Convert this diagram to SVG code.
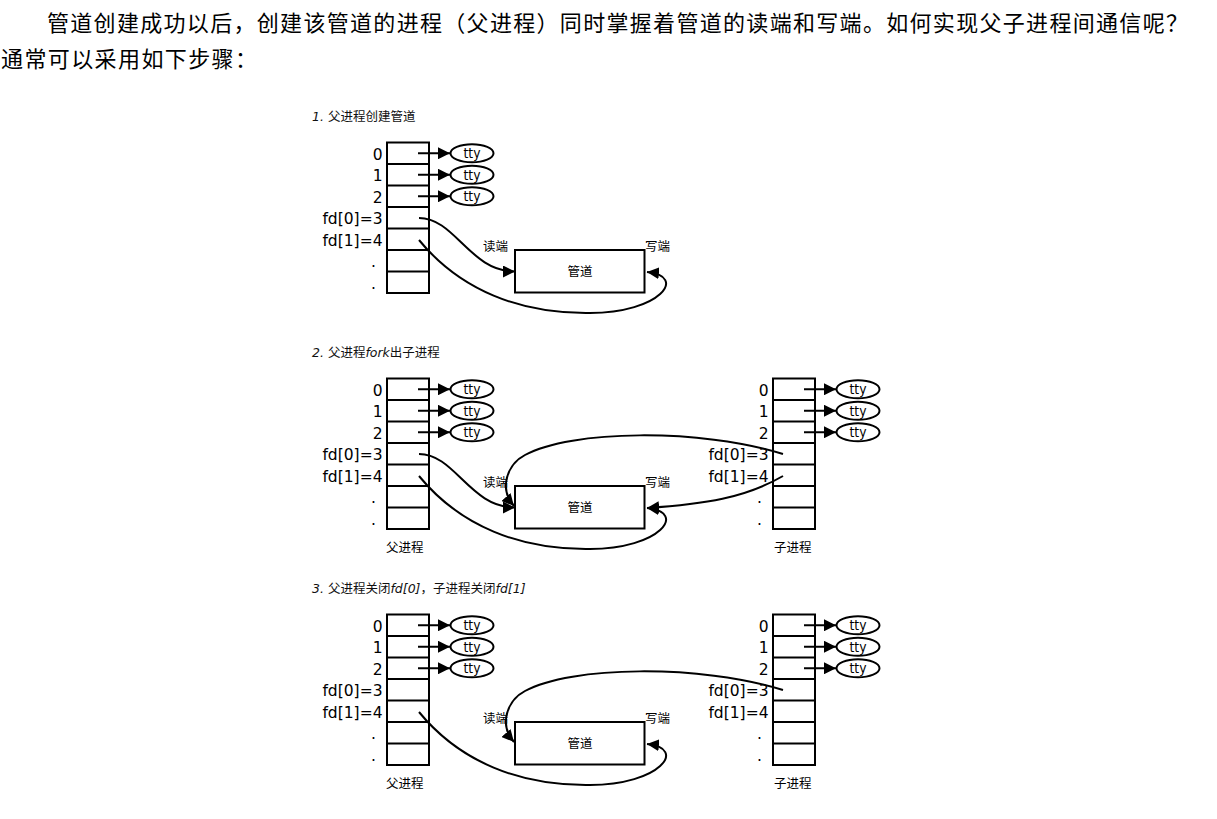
<svg xmlns="http://www.w3.org/2000/svg" width="1217" height="819" viewBox="0 0 1217 819">
<style>
.hd{font-family:"Liberation Serif","Noto Sans CJK SC",serif;font-size:22px;fill:#000}
.tb{fill:none;stroke:#000;stroke-width:2}
.ln{fill:none;stroke:#000;stroke-width:2}
.el{fill:#fff;stroke:#000;stroke-width:2}
.lbl{font-family:"DejaVu Sans",sans-serif;font-size:15.5px;text-anchor:end;fill:#000}
.tty{font-family:"DejaVu Sans",sans-serif;font-size:14px;text-anchor:middle;fill:#000}
.cn{font-family:"DejaVu Sans","Noto Sans CJK SC",sans-serif;font-size:12.5px;fill:#000}
.ttl{font-family:"DejaVu Sans","Noto Sans CJK SC",sans-serif;font-size:12.5px;fill:#111}
.it{font-style:italic}
.mid{text-anchor:middle}
</style>
<defs>
<marker id="ah" markerUnits="userSpaceOnUse" viewBox="0 0 12 12" markerWidth="12" markerHeight="12" refX="12" refY="6" orient="auto"><path d="M0,0L12,6L0,12z" fill="#000"/></marker>
</defs>
<rect x="0" y="0" width="1217" height="819" fill="#fff"/>

<g id="header">
<text class="hd" x="47" y="31" textLength="1141" lengthAdjust="spacing">管道创建成功以后，创建该管道的进程（父进程）同时掌握着管道的读端和写端。如何实现父子进程间通信呢？</text>
<text class="hd" x="1" y="67" textLength="256" lengthAdjust="spacing">通常可以采用如下步骤：</text>
</g>

<!-- ============ SECTION 1 ============ -->
<g id="section1">
<text class="ttl" x="312" y="121"><tspan class="it">1.</tspan> 父进程创建管道</text>
<g id="s1-parent-table">
<rect class="tb" x="387" y="142.5" width="42" height="150.5"/>
<path class="tb" d="M387,164H429M387,185.5H429M387,207H429M387,228.5H429M387,250H429M387,271.5H429"/>
<text class="lbl" x="382.5" y="159.75">0</text>
<text class="lbl" x="382.5" y="181.25">1</text>
<text class="lbl" x="382.5" y="202.75">2</text>
<text class="lbl" x="382.5" y="224.25">fd[0]=3</text>
<text class="lbl" x="382.5" y="245.75">fd[1]=4</text>
<text class="lbl" x="376" y="267.25">.</text>
<text class="lbl" x="376" y="288.75">.</text>
</g>
<g id="s1-tty0"><ellipse class="el" cx="472" cy="153.25" rx="21.5" ry="9"/><text class="tty" x="472" y="158" textLength="17" lengthAdjust="spacingAndGlyphs">tty</text></g>
<g id="s1-tty1"><ellipse class="el" cx="472" cy="174.75" rx="21.5" ry="9"/><text class="tty" x="472" y="179.5" textLength="17" lengthAdjust="spacingAndGlyphs">tty</text></g>
<g id="s1-tty2"><ellipse class="el" cx="472" cy="196.25" rx="21.5" ry="9"/><text class="tty" x="472" y="201" textLength="17" lengthAdjust="spacingAndGlyphs">tty</text></g>
<g id="s1-pipe">
<rect class="tb" x="515" y="250" width="129.5" height="42.5"/>
<text class="cn mid" x="580" y="276">管道</text>
<text class="cn" x="483" y="251">读端</text>
<text class="cn" x="645" y="251">写端</text>
</g>
<g id="s1-connectors">
<path class="ln" marker-end="url(#ah)" d="M418,153.25H450"/>
<path class="ln" marker-end="url(#ah)" d="M418,174.75H450"/>
<path class="ln" marker-end="url(#ah)" d="M418,196.25H450"/>
<path class="ln" marker-end="url(#ah)" d="M419,218C455,218 470,271.5 515,271.5"/>
<path class="ln" marker-end="url(#ah)" d="M419,240C460,290 520,314 590,313C660,313 688,276 647,272"/>
</g>
</g>

<!-- ============ SECTION 2 ============ -->
<g id="section2" transform="translate(0,236)">
<text class="ttl" x="312" y="121"><tspan class="it">2.</tspan> 父进程<tspan class="it">fork</tspan>出子进程</text>
<g id="s2-parent-table">
<rect class="tb" x="387" y="142.5" width="42" height="150.5"/>
<path class="tb" d="M387,164H429M387,185.5H429M387,207H429M387,228.5H429M387,250H429M387,271.5H429"/>
<text class="lbl" x="382.5" y="159.75">0</text>
<text class="lbl" x="382.5" y="181.25">1</text>
<text class="lbl" x="382.5" y="202.75">2</text>
<text class="lbl" x="382.5" y="224.25">fd[0]=3</text>
<text class="lbl" x="382.5" y="245.75">fd[1]=4</text>
<text class="lbl" x="376" y="267.25">.</text>
<text class="lbl" x="376" y="288.75">.</text>
<text class="cn" x="386" y="315.5">父进程</text>
</g>
<g id="s2-ptty0"><ellipse class="el" cx="472" cy="153.25" rx="21.5" ry="9"/><text class="tty" x="472" y="158" textLength="17" lengthAdjust="spacingAndGlyphs">tty</text></g>
<g id="s2-ptty1"><ellipse class="el" cx="472" cy="174.75" rx="21.5" ry="9"/><text class="tty" x="472" y="179.5" textLength="17" lengthAdjust="spacingAndGlyphs">tty</text></g>
<g id="s2-ptty2"><ellipse class="el" cx="472" cy="196.25" rx="21.5" ry="9"/><text class="tty" x="472" y="201" textLength="17" lengthAdjust="spacingAndGlyphs">tty</text></g>
<g id="s2-child-table">
<rect class="tb" x="773" y="142.5" width="42" height="150.5"/>
<path class="tb" d="M773,164H815M773,185.5H815M773,207H815M773,228.5H815M773,250H815M773,271.5H815"/>
<text class="lbl" x="768.5" y="159.75">0</text>
<text class="lbl" x="768.5" y="181.25">1</text>
<text class="lbl" x="768.5" y="202.75">2</text>
<text class="lbl" x="768.5" y="224.25">fd[0]=3</text>
<text class="lbl" x="768.5" y="245.75">fd[1]=4</text>
<text class="lbl" x="762" y="267.25">.</text>
<text class="lbl" x="762" y="288.75">.</text>
<text class="cn" x="774" y="315.5">子进程</text>
</g>
<g id="s2-ctty0"><ellipse class="el" cx="858" cy="153.25" rx="21.5" ry="9"/><text class="tty" x="858" y="158" textLength="17" lengthAdjust="spacingAndGlyphs">tty</text></g>
<g id="s2-ctty1"><ellipse class="el" cx="858" cy="174.75" rx="21.5" ry="9"/><text class="tty" x="858" y="179.5" textLength="17" lengthAdjust="spacingAndGlyphs">tty</text></g>
<g id="s2-ctty2"><ellipse class="el" cx="858" cy="196.25" rx="21.5" ry="9"/><text class="tty" x="858" y="201" textLength="17" lengthAdjust="spacingAndGlyphs">tty</text></g>
<g id="s2-pipe">
<rect class="tb" x="515" y="250" width="129.5" height="42.5"/>
<text class="cn mid" x="580" y="276">管道</text>
<text class="cn" x="483" y="251">读端</text>
<text class="cn" x="645" y="251">写端</text>
</g>
<g id="s2-connectors">
<path class="ln" marker-end="url(#ah)" d="M418,153.25H450"/>
<path class="ln" marker-end="url(#ah)" d="M418,174.75H450"/>
<path class="ln" marker-end="url(#ah)" d="M418,196.25H450"/>
<path class="ln" marker-end="url(#ah)" d="M804,153.25H836"/>
<path class="ln" marker-end="url(#ah)" d="M804,174.75H836"/>
<path class="ln" marker-end="url(#ah)" d="M804,196.25H836"/>
<path class="ln" marker-end="url(#ah)" d="M419,218C455,218 470,271.5 515,271.5"/>
<path class="ln" marker-end="url(#ah)" d="M419,240C460,290 520,314 590,313C660,313 688,276 647,272"/>
<path class="ln" marker-end="url(#ah)" d="M783,218C700,192 570,194 525,219C508,228 498,252 514,270"/>
<path class="ln" marker-end="url(#ah)" d="M783,240C745,262 705,268 647,272"/>
</g>
</g>

<!-- ============ SECTION 3 ============ -->
<g id="section3" transform="translate(0,472)">
<text class="ttl" x="312" y="121"><tspan class="it">3.</tspan> 父进程关闭<tspan class="it">fd[0]</tspan>，子进程关闭<tspan class="it">fd[1]</tspan></text>
<g id="s3-parent-table">
<rect class="tb" x="387" y="142.5" width="42" height="150.5"/>
<path class="tb" d="M387,164H429M387,185.5H429M387,207H429M387,228.5H429M387,250H429M387,271.5H429"/>
<text class="lbl" x="382.5" y="159.75">0</text>
<text class="lbl" x="382.5" y="181.25">1</text>
<text class="lbl" x="382.5" y="202.75">2</text>
<text class="lbl" x="382.5" y="224.25">fd[0]=3</text>
<text class="lbl" x="382.5" y="245.75">fd[1]=4</text>
<text class="lbl" x="376" y="267.25">.</text>
<text class="lbl" x="376" y="288.75">.</text>
<text class="cn" x="386" y="315.5">父进程</text>
</g>
<g id="s3-ptty0"><ellipse class="el" cx="472" cy="153.25" rx="21.5" ry="9"/><text class="tty" x="472" y="158" textLength="17" lengthAdjust="spacingAndGlyphs">tty</text></g>
<g id="s3-ptty1"><ellipse class="el" cx="472" cy="174.75" rx="21.5" ry="9"/><text class="tty" x="472" y="179.5" textLength="17" lengthAdjust="spacingAndGlyphs">tty</text></g>
<g id="s3-ptty2"><ellipse class="el" cx="472" cy="196.25" rx="21.5" ry="9"/><text class="tty" x="472" y="201" textLength="17" lengthAdjust="spacingAndGlyphs">tty</text></g>
<g id="s3-child-table">
<rect class="tb" x="773" y="142.5" width="42" height="150.5"/>
<path class="tb" d="M773,164H815M773,185.5H815M773,207H815M773,228.5H815M773,250H815M773,271.5H815"/>
<text class="lbl" x="768.5" y="159.75">0</text>
<text class="lbl" x="768.5" y="181.25">1</text>
<text class="lbl" x="768.5" y="202.75">2</text>
<text class="lbl" x="768.5" y="224.25">fd[0]=3</text>
<text class="lbl" x="768.5" y="245.75">fd[1]=4</text>
<text class="lbl" x="762" y="267.25">.</text>
<text class="lbl" x="762" y="288.75">.</text>
<text class="cn" x="774" y="315.5">子进程</text>
</g>
<g id="s3-ctty0"><ellipse class="el" cx="858" cy="153.25" rx="21.5" ry="9"/><text class="tty" x="858" y="158" textLength="17" lengthAdjust="spacingAndGlyphs">tty</text></g>
<g id="s3-ctty1"><ellipse class="el" cx="858" cy="174.75" rx="21.5" ry="9"/><text class="tty" x="858" y="179.5" textLength="17" lengthAdjust="spacingAndGlyphs">tty</text></g>
<g id="s3-ctty2"><ellipse class="el" cx="858" cy="196.25" rx="21.5" ry="9"/><text class="tty" x="858" y="201" textLength="17" lengthAdjust="spacingAndGlyphs">tty</text></g>
<g id="s3-pipe">
<rect class="tb" x="515" y="250" width="129.5" height="42.5"/>
<text class="cn mid" x="580" y="276">管道</text>
<text class="cn" x="483" y="251">读端</text>
<text class="cn" x="645" y="251">写端</text>
</g>
<g id="s3-connectors">
<path class="ln" marker-end="url(#ah)" d="M418,153.25H450"/>
<path class="ln" marker-end="url(#ah)" d="M418,174.75H450"/>
<path class="ln" marker-end="url(#ah)" d="M418,196.25H450"/>
<path class="ln" marker-end="url(#ah)" d="M804,153.25H836"/>
<path class="ln" marker-end="url(#ah)" d="M804,174.75H836"/>
<path class="ln" marker-end="url(#ah)" d="M804,196.25H836"/>
<path class="ln" marker-end="url(#ah)" d="M419,240C460,290 520,314 590,313C660,313 688,276 647,272"/>
<path class="ln" marker-end="url(#ah)" d="M783,218C700,192 570,194 525,219C508,228 498,252 514,270"/>
</g>
</g>
</svg>
